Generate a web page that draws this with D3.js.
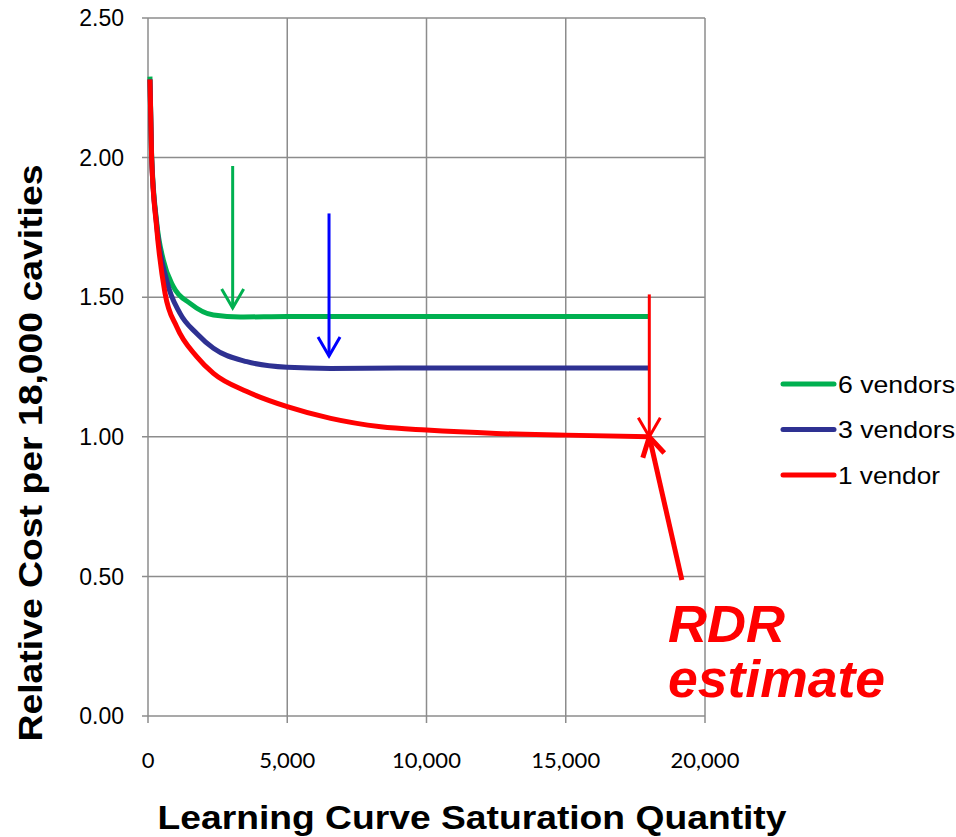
<!DOCTYPE html>
<html>
<head>
<meta charset="utf-8">
<script src="https://cdn.jsdelivr.net/npm/d3@7"></script>
<style>
  body { margin: 0; background: #fff; }
  svg { display: block; }
</style>
</head>
<body>
<div id="chart"></div>
<script>
// series values
let seriesNames = ["6 vendors", "3 vendors", "1 vendor"];
let qty6 = [70, 130, 310, 550, 910, 1510, 2350, 3320, 5000, 8000, 12000, 18000];
let cost6 = [2.29, 2.01, 1.77, 1.633, 1.538, 1.478, 1.436, 1.429, 1.431, 1.431, 1.431, 1.431];
let qty3 = [70, 130, 310, 670, 1150, 1750, 2350, 3550, 5000, 6560, 9000, 12000, 18000];
let cost3 = [2.28, 2.00, 1.76, 1.56, 1.442, 1.37, 1.317, 1.269, 1.249, 1.245, 1.246, 1.246, 1.246];
let qty1 = [70, 130, 310, 610, 1030, 1750, 2350, 3550, 5000, 6560, 8360, 10000, 12500, 15000, 18000];
let cost1 = [2.28, 2.00, 1.75, 1.515, 1.394, 1.287, 1.227, 1.162, 1.108, 1.066, 1.036, 1.024, 1.012, 1.006, 1.0];

// tick labels
let xTicks = [0, 5000, 10000, 15000, 20000];
let yTicks = [0, 0.5, 1.0, 1.5, 2.0, 2.5];

// annotation arrows (data units): [qty, cost] from -> to
let arrowFrom = [[3040, 1.97], [6500, 1.80], [18000, 1.51], [19170, 0.487]];
let arrowTo = [[3040, 1.461], [6500, 1.289], [18000, 1.0], [18000, 1.0]];

let seriesColors = ["#00B050", "#2E3192", "#FF0000"];
let arrowColors = ["#00B050", "#0000FF", "#FF0000", "#FF0000"];
let arrowWidths = [3, 3, 3, 5];

// set the dimensions and margins of the graph
let margin = { top: 18, right: 251, bottom: 121, left: 148 },
    width = 956 - margin.left - margin.right,
    height = 837 - margin.top - margin.bottom;

let svgRoot = d3.select("#chart")
    .append("svg")
    .attr("width", 956)
    .attr("height", 837);

let svg = svgRoot.append("g")
    .attr("transform", "translate(" + margin.left + "," + margin.top + ")");

let x = d3.scaleLinear().domain([0, 20000]).range([0, width]);
let y = d3.scaleLinear().domain([0, 2.5]).range([height, 0]);

let gridColor = "#8c8c8c";
let arial = "Liberation Sans, Arial, sans-serif";

// gridlines
svg.append("g")
    .selectAll("line.hgrid")
    .data(yTicks)
    .enter().append("line")
    .attr("x1", -6).attr("x2", width)
    .attr("y1", d => y(d)).attr("y2", d => y(d))
    .style("stroke", gridColor)
    .style("stroke-width", 1.5);

svg.append("g")
    .selectAll("line.vgrid")
    .data(xTicks)
    .enter().append("line")
    .attr("x1", d => x(d)).attr("x2", d => x(d))
    .attr("y1", 0).attr("y2", height + 7)
    .style("stroke", gridColor)
    .style("stroke-width", 1.5);

// y tick labels
svg.append("g")
    .selectAll("text")
    .data(yTicks)
    .enter().append("text")
    .attr("x", -24)
    .attr("y", d => y(d))
    .attr("dy", "0.36em")
    .style("text-anchor", "end")
    .style("font-family", arial)
    .style("font-size", "23px")
    .text(d => d3.format(".2f")(d));

// x tick labels
svg.append("g")
    .selectAll("text")
    .data(xTicks)
    .enter().append("text")
    .attr("x", d => x(d))
    .attr("y", height + 52)
    .style("text-anchor", "middle")
    .style("font-family", "Lato, Open Sans, sans-serif")
    .style("font-size", "22px")
    .text(d => d3.format(",")(d));

// axis titles
svgRoot.append("text")
    .attr("x", 472)
    .attr("y", 829)
    .attr("textLength", 629)
    .attr("lengthAdjust", "spacingAndGlyphs")
    .style("text-anchor", "middle")
    .style("font-family", arial)
    .style("font-weight", "bold")
    .style("font-size", "33px")
    .text("Learning Curve Saturation Quantity");

svgRoot.append("text")
    .attr("transform", "translate(42,453) rotate(-90)")
    .attr("textLength", 577)
    .attr("lengthAdjust", "spacingAndGlyphs")
    .style("text-anchor", "middle")
    .style("font-family", arial)
    .style("font-weight", "bold")
    .style("font-size", "33px")
    .text("Relative Cost per 18,000 cavities");

// lines
let series = [
    { name: seriesNames[0], q: qty6, c: cost6 },
    { name: seriesNames[1], q: qty3, c: cost3 },
    { name: seriesNames[2], q: qty1, c: cost1 }
];

let line = d3.line()
    .x(d => x(d[0]))
    .y(d => y(d[1]))
    .curve(d3.curveMonotoneX);

series.forEach(function (s, i) {
    svg.append("path")
        .datum(s.q.map((q, j) => [q, s.c[j]]))
        .attr("d", line)
        .style("fill", "none")
        .style("stroke", seriesColors[i])
        .style("stroke-width", 5)
        .style("stroke-linejoin", "round");
});

// arrows
arrowFrom.forEach(function (f, i) {
    let t = arrowTo[i];
    let x1 = x(f[0]), y1 = y(f[1]), x2 = x(t[0]), y2 = y(t[1]);
    let ang = Math.atan2(y2 - y1, x2 - x1);
    let len = 22, spread = Math.PI / 6;
    let g = svg.append("g")
        .style("stroke", arrowColors[i])
        .style("stroke-width", arrowWidths[i])
        .style("fill", "none")
        .style("stroke-linecap", "butt");
    g.append("line").attr("x1", x1).attr("y1", y1).attr("x2", x2).attr("y2", y2);
    g.append("path")
        .attr("d", "M" + (x2 - len * Math.cos(ang - spread)) + "," + (y2 - len * Math.sin(ang - spread)) +
            "L" + x2 + "," + y2 +
            "L" + (x2 - len * Math.cos(ang + spread)) + "," + (y2 - len * Math.sin(ang + spread)));
});

// RDR estimate label
let rdrLines = ["RDR", "estimate"];
let rdrWidths = [117, 217];
rdrLines.forEach(function (t, i) {
    svgRoot.append("text")
        .attr("x", 668)
        .attr("y", 642 + i * 55)
        .attr("textLength", rdrWidths[i])
        .attr("lengthAdjust", "spacingAndGlyphs")
        .style("font-family", arial)
        .style("font-weight", "bold")
        .style("font-style", "italic")
        .style("font-size", "51px")
        .style("fill", "#FF0000")
        .text(t);
});

// legend
let legendWidths = [117, 117, 102];
let legend = svgRoot.append("g");
seriesNames.forEach(function (n, i) {
    let ly = 384 + i * 45.5;
    legend.append("line")
        .attr("x1", 783).attr("x2", 834)
        .attr("y1", ly).attr("y2", ly)
        .style("stroke", seriesColors[i])
        .style("stroke-width", 5)
        .style("stroke-linecap", "round");
    legend.append("text")
        .attr("x", 838)
        .attr("y", ly)
        .attr("dy", "0.36em")
        .attr("textLength", legendWidths[i])
        .attr("lengthAdjust", "spacingAndGlyphs")
        .style("font-family", arial)
        .style("font-size", "24px")
        .text(n);
});
</script>
</body>
</html>
